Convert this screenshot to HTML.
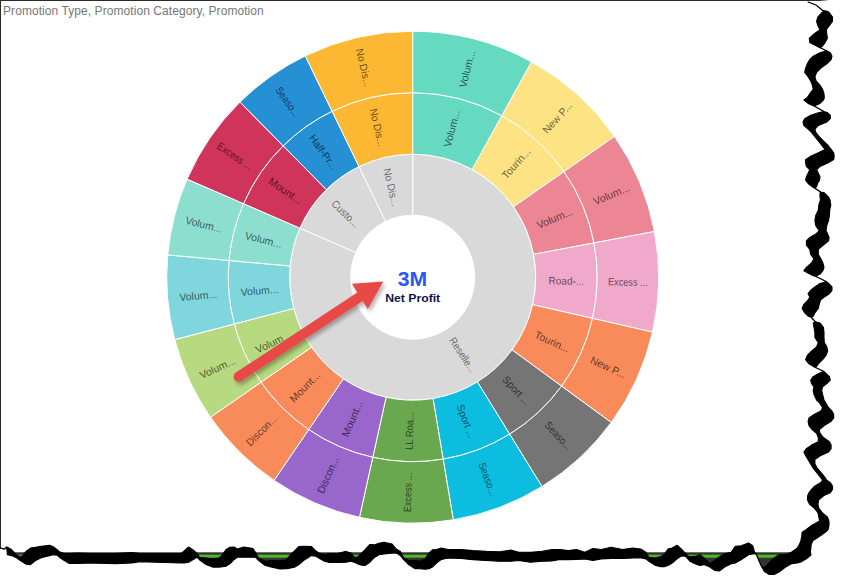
<!DOCTYPE html>
<html><head><meta charset="utf-8"><title>Sunburst</title>
<style>
html,body{margin:0;padding:0;background:#fff;}
body{width:849px;height:587px;overflow:hidden;position:relative;font-family:"Liberation Sans",sans-serif;}
svg{position:absolute;left:0;top:0;}
svg text{font-family:"Liberation Sans",sans-serif;font-size:10.5px;}
.title{position:absolute;left:3px;top:4px;font-size:12px;color:#777;white-space:nowrap;letter-spacing:0.07px;}
.btop{position:absolute;left:0;top:0;width:828px;height:1px;background:#2b2b2b;}
.bleft{position:absolute;left:0;top:0;width:1px;height:548px;background:#2b2b2b;}
</style></head><body>
<div class="btop"></div><div class="bleft"></div>
<div class="title">Promotion Type, Promotion Category, Promotion</div>
<svg width="849" height="587" viewBox="0 0 849 587">
<defs>
<filter id="sh" x="-20%" y="-20%" width="140%" height="140%">
<feGaussianBlur in="SourceAlpha" stdDeviation="2"/><feOffset dx="2" dy="2.5"/>
<feComponentTransfer><feFuncA type="linear" slope="0.32"/></feComponentTransfer>
<feMerge><feMergeNode/><feMergeNode in="SourceGraphic"/></feMerge>
</filter>
</defs>
<path d="M412.70 154.20A123.0 123.0 0 1 1 299.90 228.15L355.84 252.48A62.0 62.0 0 1 0 412.70 215.20Z" fill="#D9D9D9" stroke="#fff" stroke-width="1"/>
<path d="M299.90 228.15A123.0 123.0 0 0 1 358.97 166.55L385.62 221.43A62.0 62.0 0 0 0 355.84 252.48Z" fill="#D9D9D9" stroke="#fff" stroke-width="1"/>
<path d="M358.97 166.55A123.0 123.0 0 0 1 412.70 154.20L412.70 215.20A62.0 62.0 0 0 0 385.62 221.43Z" fill="#D9D9D9" stroke="#fff" stroke-width="1"/>
<path d="M412.70 92.70A184.5 184.5 0 0 1 501.87 115.68L472.14 169.52A123.0 123.0 0 0 0 412.70 154.20Z" fill="#66D9C1" stroke="#fff" stroke-width="1"/>
<path d="M412.70 31.20A246.0 246.0 0 0 1 531.59 61.84L501.87 115.68A184.5 184.5 0 0 0 412.70 92.70Z" fill="#66D9C1" stroke="#fff" stroke-width="1"/>
<path d="M501.87 115.68A184.5 184.5 0 0 1 564.02 171.64L513.58 206.83A123.0 123.0 0 0 0 472.14 169.52Z" fill="#FDE383" stroke="#fff" stroke-width="1"/>
<path d="M531.59 61.84A246.0 246.0 0 0 1 614.46 136.45L564.02 171.64A184.5 184.5 0 0 0 501.87 115.68Z" fill="#FDE383" stroke="#fff" stroke-width="1"/>
<path d="M564.02 171.64A184.5 184.5 0 0 1 593.99 242.94L533.56 254.36A123.0 123.0 0 0 0 513.58 206.83Z" fill="#EC8594" stroke="#fff" stroke-width="1"/>
<path d="M614.46 136.45A246.0 246.0 0 0 1 654.42 231.53L593.99 242.94A184.5 184.5 0 0 0 564.02 171.64Z" fill="#EC8594" stroke="#fff" stroke-width="1"/>
<path d="M593.99 242.94A184.5 184.5 0 0 1 592.54 318.39L532.60 304.66A123.0 123.0 0 0 0 533.56 254.36Z" fill="#F0A8CB" stroke="#fff" stroke-width="1"/>
<path d="M654.42 231.53A246.0 246.0 0 0 1 652.49 332.12L592.54 318.39A184.5 184.5 0 0 0 593.99 242.94Z" fill="#F0A8CB" stroke="#fff" stroke-width="1"/>
<path d="M592.54 318.39A184.5 184.5 0 0 1 561.58 386.17L511.96 349.84A123.0 123.0 0 0 0 532.60 304.66Z" fill="#F98B5B" stroke="#fff" stroke-width="1"/>
<path d="M652.49 332.12A246.0 246.0 0 0 1 611.21 422.49L561.58 386.17A184.5 184.5 0 0 0 592.54 318.39Z" fill="#F98B5B" stroke="#fff" stroke-width="1"/>
<path d="M561.58 386.17A184.5 184.5 0 0 1 509.65 434.17L477.33 381.85A123.0 123.0 0 0 0 511.96 349.84Z" fill="#757575" stroke="#fff" stroke-width="1"/>
<path d="M611.21 422.49A246.0 246.0 0 0 1 541.97 486.50L509.65 434.17A184.5 184.5 0 0 0 561.58 386.17Z" fill="#757575" stroke="#fff" stroke-width="1"/>
<path d="M509.65 434.17A184.5 184.5 0 0 1 443.15 459.17L433.00 398.51A123.0 123.0 0 0 0 477.33 381.85Z" fill="#0DBDDF" stroke="#fff" stroke-width="1"/>
<path d="M541.97 486.50A246.0 246.0 0 0 1 453.30 519.83L443.15 459.17A184.5 184.5 0 0 0 509.65 434.17Z" fill="#0DBDDF" stroke="#fff" stroke-width="1"/>
<path d="M443.15 459.17A184.5 184.5 0 0 1 372.77 457.33L386.08 397.28A123.0 123.0 0 0 0 433.00 398.51Z" fill="#6AA84F" stroke="#fff" stroke-width="1"/>
<path d="M453.30 519.83A246.0 246.0 0 0 1 359.46 517.37L372.77 457.33A184.5 184.5 0 0 0 443.15 459.17Z" fill="#6AA84F" stroke="#fff" stroke-width="1"/>
<path d="M372.77 457.33A184.5 184.5 0 0 1 308.73 429.62L343.39 378.81A123.0 123.0 0 0 0 386.08 397.28Z" fill="#9966CC" stroke="#fff" stroke-width="1"/>
<path d="M359.46 517.37A246.0 246.0 0 0 1 274.07 480.42L308.73 429.62A184.5 184.5 0 0 0 372.77 457.33Z" fill="#9966CC" stroke="#fff" stroke-width="1"/>
<path d="M308.73 429.62A184.5 184.5 0 0 1 261.01 382.23L311.58 347.22A123.0 123.0 0 0 0 343.39 378.81Z" fill="#F98B5B" stroke="#fff" stroke-width="1"/>
<path d="M274.07 480.42A246.0 246.0 0 0 1 210.45 417.24L261.01 382.23A184.5 184.5 0 0 0 308.73 429.62Z" fill="#F98B5B" stroke="#fff" stroke-width="1"/>
<path d="M261.01 382.23A184.5 184.5 0 0 1 234.24 324.02L293.73 308.41A123.0 123.0 0 0 0 311.58 347.22Z" fill="#B7D97F" stroke="#fff" stroke-width="1"/>
<path d="M210.45 417.24A246.0 246.0 0 0 1 174.75 339.62L234.24 324.02A184.5 184.5 0 0 0 261.01 382.23Z" fill="#B7D97F" stroke="#fff" stroke-width="1"/>
<path d="M234.24 324.02A184.5 184.5 0 0 1 228.96 260.48L290.21 266.05A123.0 123.0 0 0 0 293.73 308.41Z" fill="#7FD6DC" stroke="#fff" stroke-width="1"/>
<path d="M174.75 339.62A246.0 246.0 0 0 1 167.71 254.90L228.96 260.48A184.5 184.5 0 0 0 234.24 324.02Z" fill="#7FD6DC" stroke="#fff" stroke-width="1"/>
<path d="M228.96 260.48A184.5 184.5 0 0 1 243.50 203.63L299.90 228.15A123.0 123.0 0 0 0 290.21 266.05Z" fill="#8CDFCF" stroke="#fff" stroke-width="1"/>
<path d="M167.71 254.90A246.0 246.0 0 0 1 187.10 179.11L243.50 203.63A184.5 184.5 0 0 0 228.96 260.48Z" fill="#8CDFCF" stroke="#fff" stroke-width="1"/>
<path d="M243.50 203.63A184.5 184.5 0 0 1 283.15 145.83L326.34 189.62A123.0 123.0 0 0 0 299.90 228.15Z" fill="#D0345B" stroke="#fff" stroke-width="1"/>
<path d="M187.10 179.11A246.0 246.0 0 0 1 239.97 102.04L283.15 145.83A184.5 184.5 0 0 0 243.50 203.63Z" fill="#D0345B" stroke="#fff" stroke-width="1"/>
<path d="M283.15 145.83A184.5 184.5 0 0 1 332.11 111.23L358.97 166.55A123.0 123.0 0 0 0 326.34 189.62Z" fill="#2590D4" stroke="#fff" stroke-width="1"/>
<path d="M239.97 102.04A246.0 246.0 0 0 1 305.25 55.91L332.11 111.23A184.5 184.5 0 0 0 283.15 145.83Z" fill="#2590D4" stroke="#fff" stroke-width="1"/>
<path d="M332.11 111.23A184.5 184.5 0 0 1 412.70 92.70L412.70 154.20A123.0 123.0 0 0 0 358.97 166.55Z" fill="#FDB833" stroke="#fff" stroke-width="1"/>
<path d="M305.25 55.91A246.0 246.0 0 0 1 412.70 31.20L412.70 92.70A184.5 184.5 0 0 0 332.11 111.23Z" fill="#FDB833" stroke="#fff" stroke-width="1"/>
<text x="463.42" y="354.56" transform="rotate(56.75 463.42 354.56)" fill="#5a5a5a" fill-opacity="0.9" text-anchor="middle" dy="4.4" textLength="39.77" lengthAdjust="spacingAndGlyphs">Reselle...</text>
<text x="345.94" y="213.18" transform="rotate(43.80 345.94 213.18)" fill="#5a5a5a" fill-opacity="0.9" text-anchor="middle" dy="4.4" textLength="33.96" lengthAdjust="spacingAndGlyphs">Custo...</text>
<text x="391.97" y="187.05" transform="rotate(77.05 391.97 187.05)" fill="#5a5a5a" fill-opacity="0.9" text-anchor="middle" dy="4.4" textLength="38.68" lengthAdjust="spacingAndGlyphs">No Dis...</text>
<text x="451.07" y="128.31" transform="rotate(-75.55 451.07 128.31)" fill="#000" fill-opacity="0.62" text-anchor="middle" dy="4.4" textLength="37.97" lengthAdjust="spacingAndGlyphs">Volum...</text>
<text x="466.41" y="68.76" transform="rotate(-75.55 466.41 68.76)" fill="#000" fill-opacity="0.62" text-anchor="middle" dy="4.4" textLength="37.97" lengthAdjust="spacingAndGlyphs">Volum...</text>
<text x="515.58" y="162.94" transform="rotate(-48.00 515.58 162.94)" fill="#000" fill-opacity="0.62" text-anchor="middle" dy="4.4" textLength="37.13" lengthAdjust="spacingAndGlyphs">Tourin...</text>
<text x="556.73" y="117.24" transform="rotate(-48.00 556.73 117.24)" fill="#000" fill-opacity="0.62" text-anchor="middle" dy="4.4" textLength="38.0" lengthAdjust="spacingAndGlyphs">New P...</text>
<text x="554.44" y="217.62" transform="rotate(-22.80 554.44 217.62)" fill="#000" fill-opacity="0.62" text-anchor="middle" dy="4.4" textLength="37.97" lengthAdjust="spacingAndGlyphs">Volum...</text>
<text x="611.13" y="193.79" transform="rotate(-22.80 611.13 193.79)" fill="#000" fill-opacity="0.62" text-anchor="middle" dy="4.4" textLength="37.97" lengthAdjust="spacingAndGlyphs">Volum...</text>
<text x="566.42" y="280.15" transform="rotate(1.10 566.42 280.15)" fill="#000" fill-opacity="0.62" text-anchor="middle" dy="4.4" textLength="35.56" lengthAdjust="spacingAndGlyphs">Road-...</text>
<text x="627.91" y="281.33" transform="rotate(1.10 627.91 281.33)" fill="#000" fill-opacity="0.62" text-anchor="middle" dy="4.4" textLength="39.71" lengthAdjust="spacingAndGlyphs">Excess ...</text>
<text x="552.55" y="341.08" transform="rotate(24.55 552.55 341.08)" fill="#000" fill-opacity="0.62" text-anchor="middle" dy="4.4" textLength="37.13" lengthAdjust="spacingAndGlyphs">Tourin...</text>
<text x="608.49" y="366.63" transform="rotate(24.55 608.49 366.63)" fill="#000" fill-opacity="0.62" text-anchor="middle" dy="4.4" textLength="38.0" lengthAdjust="spacingAndGlyphs">New P...</text>
<text x="517.07" y="390.10" transform="rotate(47.25 517.07 390.10)" fill="#000" fill-opacity="0.62" text-anchor="middle" dy="4.4" textLength="35.38" lengthAdjust="spacingAndGlyphs">Sport ...</text>
<text x="558.81" y="435.26" transform="rotate(47.25 558.81 435.26)" fill="#000" fill-opacity="0.62" text-anchor="middle" dy="4.4" textLength="34.39" lengthAdjust="spacingAndGlyphs">Seaso...</text>
<text x="466.80" y="421.12" transform="rotate(69.40 466.80 421.12)" fill="#000" fill-opacity="0.62" text-anchor="middle" dy="4.4" textLength="35.38" lengthAdjust="spacingAndGlyphs">Sport ...</text>
<text x="488.43" y="478.69" transform="rotate(69.40 488.43 478.69)" fill="#000" fill-opacity="0.62" text-anchor="middle" dy="4.4" textLength="34.39" lengthAdjust="spacingAndGlyphs">Seaso...</text>
<text x="408.68" y="430.90" transform="rotate(-88.50 408.68 430.90)" fill="#000" fill-opacity="0.62" text-anchor="middle" dy="4.4" textLength="38.0" lengthAdjust="spacingAndGlyphs">LL Roa...</text>
<text x="407.07" y="492.38" transform="rotate(-88.50 407.07 492.38)" fill="#000" fill-opacity="0.62" text-anchor="middle" dy="4.4" textLength="39.71" lengthAdjust="spacingAndGlyphs">Excess ...</text>
<text x="351.64" y="418.30" transform="rotate(-66.60 351.64 418.30)" fill="#000" fill-opacity="0.62" text-anchor="middle" dy="4.4" textLength="38.44" lengthAdjust="spacingAndGlyphs">Mount...</text>
<text x="327.21" y="474.75" transform="rotate(-66.60 327.21 474.75)" fill="#000" fill-opacity="0.62" text-anchor="middle" dy="4.4" textLength="38.73" lengthAdjust="spacingAndGlyphs">Discon...</text>
<text x="304.36" y="386.30" transform="rotate(-45.20 304.36 386.30)" fill="#000" fill-opacity="0.62" text-anchor="middle" dy="4.4" textLength="38.44" lengthAdjust="spacingAndGlyphs">Mount...</text>
<text x="261.03" y="429.94" transform="rotate(-45.20 261.03 429.94)" fill="#000" fill-opacity="0.62" text-anchor="middle" dy="4.4" textLength="38.73" lengthAdjust="spacingAndGlyphs">Discon...</text>
<text x="273.02" y="341.45" transform="rotate(-24.70 273.02 341.45)" fill="#000" fill-opacity="0.62" text-anchor="middle" dy="4.4" textLength="37.97" lengthAdjust="spacingAndGlyphs">Volum...</text>
<text x="217.14" y="367.15" transform="rotate(-24.70 217.14 367.15)" fill="#000" fill-opacity="0.62" text-anchor="middle" dy="4.4" textLength="37.97" lengthAdjust="spacingAndGlyphs">Volum...</text>
<text x="259.48" y="289.93" transform="rotate(-4.75 259.48 289.93)" fill="#000" fill-opacity="0.62" text-anchor="middle" dy="4.4" textLength="37.97" lengthAdjust="spacingAndGlyphs">Volum...</text>
<text x="198.19" y="295.02" transform="rotate(-4.75 198.19 295.02)" fill="#000" fill-opacity="0.62" text-anchor="middle" dy="4.4" textLength="37.97" lengthAdjust="spacingAndGlyphs">Volum...</text>
<text x="263.75" y="239.09" transform="rotate(14.35 263.75 239.09)" fill="#000" fill-opacity="0.62" text-anchor="middle" dy="4.4" textLength="37.97" lengthAdjust="spacingAndGlyphs">Volum...</text>
<text x="204.17" y="223.85" transform="rotate(14.35 204.17 223.85)" fill="#000" fill-opacity="0.62" text-anchor="middle" dy="4.4" textLength="37.97" lengthAdjust="spacingAndGlyphs">Volum...</text>
<text x="285.91" y="190.23" transform="rotate(34.45 285.91 190.23)" fill="#000" fill-opacity="0.62" text-anchor="middle" dy="4.4" textLength="38.44" lengthAdjust="spacingAndGlyphs">Mount...</text>
<text x="235.20" y="155.44" transform="rotate(34.45 235.20 155.44)" fill="#000" fill-opacity="0.62" text-anchor="middle" dy="4.4" textLength="39.71" lengthAdjust="spacingAndGlyphs">Excess ...</text>
<text x="323.96" y="151.64" transform="rotate(54.75 323.96 151.64)" fill="#000" fill-opacity="0.62" text-anchor="middle" dy="4.4" textLength="40.1" lengthAdjust="spacingAndGlyphs">Half-Pr...</text>
<text x="288.47" y="101.42" transform="rotate(54.75 288.47 101.42)" fill="#000" fill-opacity="0.62" text-anchor="middle" dy="4.4" textLength="34.39" lengthAdjust="spacingAndGlyphs">Seaso...</text>
<text x="378.24" y="127.36" transform="rotate(77.05 378.24 127.36)" fill="#000" fill-opacity="0.62" text-anchor="middle" dy="4.4" textLength="38.68" lengthAdjust="spacingAndGlyphs">No Dis...</text>
<text x="364.46" y="67.42" transform="rotate(77.05 364.46 67.42)" fill="#000" fill-opacity="0.62" text-anchor="middle" dy="4.4" textLength="38.68" lengthAdjust="spacingAndGlyphs">No Dis...</text>
<text x="397.8" y="285.7" textLength="29.4" lengthAdjust="spacingAndGlyphs" style="font-size:19.5px;font-weight:bold" fill="#2957F0">3M</text>
<text x="385.2" y="301.6" textLength="55" lengthAdjust="spacingAndGlyphs" style="font-size:11.6px;font-weight:bold" fill="#0F1350">Net Profit</text>
<g filter="url(#sh)">
<line x1="238.6" y1="376.8" x2="360" y2="296.8" stroke="#E84A47" stroke-width="10" stroke-linecap="round"/>
<polygon points="383.3,281.5 351.9,283.8 367.8,308.9" fill="#E84A47"/>
</g>
<rect x="8" y="552.3" width="785" height="28" fill="#333"/>
<rect x="8" y="554.7" width="785" height="3" fill="#4DB81F"/>
<polygon points="808.2,2.0 816.2,5.1 822.5,10.2 828.0,11.6 829.4,12.8 832.5,17.0 832.5,21.3 829.4,25.5 826.3,29.8 826.8,34.0 827.4,38.3 825.1,42.6 822.6,46.0 820.2,47.7 826.8,50.8 830.3,52.8 832.0,56.2 831.1,59.6 826.8,63.9 820.9,68.1 816.6,72.4 814.9,76.7 816.1,80.9 820.0,85.2 822.6,89.4 824.0,93.7 824.3,98.0 823.4,100.0 820.0,103.4 814.2,106.0 824.0,111.6 827.7,112.8 830.3,115.3 830.3,118.7 826.8,122.1 818.3,125.6 814.9,129.0 815.8,132.4 819.2,136.6 823.4,140.9 827.7,145.1 831.1,149.4 833.7,152.8 834.2,156.2 833.7,159.6 827.7,163.0 820.0,166.4 816.6,169.8 818.3,173.3 820.0,176.7 819.5,180.1 817.5,183.5 816.6,186.9 814.2,187.7 820.8,192.0 824.3,192.8 828.6,197.1 830.0,200.0 830.8,205.1 829.7,210.2 829.4,215.3 828.6,220.4 826.8,225.6 826.0,230.7 827.7,234.1 829.1,237.5 828.6,240.9 823.4,245.1 818.3,249.4 818.3,254.5 820.9,258.8 822.9,263.0 824.0,267.3 822.9,270.7 820.0,274.1 816.6,275.8 815.1,276.1 826.8,281.8 828.6,283.5 832.0,286.9 832.0,290.3 829.4,293.7 824.3,297.1 820.5,300.0 819.2,304.3 818.3,308.5 814.9,312.8 813.2,316.2 811.0,317.0 815.6,321.8 820.0,323.0 823.4,327.3 824.0,332.4 824.0,337.5 824.3,342.6 826.8,346.8 827.7,351.1 826.0,355.4 822.6,359.6 818.3,363.9 816.6,366.4 815.1,367.3 824.1,371.6 826.0,373.3 829.4,376.7 830.3,380.1 826.8,383.5 822.6,386.9 821.7,390.3 822.6,394.5 824.0,400.0 826.0,403.4 828.6,407.7 832.0,411.1 833.7,414.5 833.7,417.9 831.1,421.3 824.3,425.6 819.2,429.8 820.0,433.2 823.4,437.5 829.4,441.7 831.1,445.1 831.1,448.6 828.6,452.0 820.9,455.4 814.9,459.6 814.9,463.9 817.1,468.1 820.9,472.4 824.3,476.7 826.8,480.1 830.3,482.6 832.5,486.0 832.5,489.4 830.3,492.8 823.9,495.5 818.8,499.8 817.9,504.0 818.8,508.3 822.2,512.6 827.3,516.8 829.0,521.1 829.0,525.3 828.1,529.6 825.6,532.1 819.6,536.4 812.8,540.7 811.1,544.9 810.8,549.2 810.3,551.7 811.0,555.1 806.8,558.5 800.9,562.0 797.2,563.0 791.4,563.8 785.6,567.1 779.0,572.0 774.1,574.5 769.2,574.5 764.2,571.2 761.0,565.5 756.0,554.0 754.6,553.9 752.7,553.9 748.5,554.7 741.1,559.7 735.3,563.0 731.2,563.8 724.6,567.1 719.7,570.9 714.7,570.4 709.8,567.1 704.0,564.6 699.9,565.5 695.0,563.8 690.0,561.3 688.6,559.7 685.3,556.1 681.2,556.1 677.1,558.9 672.1,563.0 668.0,565.5 664.7,566.6 660.6,566.6 655.6,565.5 649.0,561.3 645.8,558.9 640.8,557.7 632.6,558.0 622.7,558.4 611.1,558.4 601.2,558.9 593.0,560.5 584.7,558.9 576.5,559.4 568.2,559.7 560.0,559.5 551.9,561.0 542.0,561.3 530.5,562.2 518.9,560.5 510.7,561.3 499.2,561.3 486.0,560.5 472.8,559.7 461.2,558.4 448.0,558.0 441.4,559.4 436.5,563.0 432.4,567.1 429.0,568.8 425.0,569.2 420.0,568.8 415.2,568.8 408.6,564.6 403.7,559.7 400.4,555.6 396.3,553.1 392.1,553.1 383.9,553.9 378.9,554.7 374.8,557.2 369.9,562.2 364.9,565.5 360.8,565.0 357.5,563.8 354.2,562.2 350.9,561.3 346.0,562.2 337.7,562.5 329.5,562.5 324.5,561.3 318.8,558.0 315.5,556.1 311.3,555.6 304.7,559.7 299.0,564.6 294.8,567.1 290.7,567.9 286.6,568.8 280.0,569.0 271.9,567.1 265.3,565.5 258.7,560.5 255.4,557.2 253.0,557.2 248.8,557.2 243.9,557.2 237.3,557.2 234.0,559.7 229.9,563.8 225.8,566.3 222.5,566.6 219.2,567.1 212.6,567.1 206.0,564.6 199.4,559.7 196.9,557.2 192.8,559.7 188.6,562.2 184.5,563.0 181.2,563.0 156.5,562.2 140.0,561.8 131.9,563.0 115.4,563.8 90.7,563.0 77.5,563.5 69.3,563.5 64.3,560.5 59.4,557.2 56.9,555.1 52.8,554.7 49.5,555.6 41.2,557.7 35.5,560.5 30.5,564.6 26.4,564.3 21.4,561.3 16.5,557.7 11.5,555.6 7.4,554.7 6.6,547.1 4.1,549.3 1.3,548.3 0.0,548.3 0.0,587.0 849.0,587.0 849.0,0.0 830.0,0.0" fill="#fff"/>
<polygon points="808.0,2.0 816.0,5.1 822.3,10.2 824.0,11.6 821.7,12.8 817.8,17.0 816.6,21.3 817.8,25.5 820.0,29.8 814.0,34.0 809.3,38.3 809.8,42.6 816.6,46.0 820.0,47.7 826.5,50.8 820.0,52.8 813.2,56.2 809.8,59.6 807.3,63.9 805.6,68.1 804.7,72.4 808.1,76.7 810.7,80.9 812.4,85.2 813.2,89.4 809.8,93.7 806.9,98.0 803.9,100.0 808.1,103.4 814.0,106.0 823.8,111.6 818.3,112.8 810.7,115.3 804.7,118.7 803.0,122.1 803.9,125.6 808.1,129.0 811.5,132.4 814.9,136.6 818.3,140.9 821.7,145.1 825.1,149.4 818.3,152.8 810.7,156.2 805.6,159.6 805.6,163.0 806.4,166.4 809.8,169.8 808.1,173.3 806.4,176.7 805.6,180.1 808.1,183.5 812.4,186.9 814.0,187.7 820.5,192.0 820.0,192.8 820.0,197.1 820.5,200.0 818.8,205.1 818.3,210.2 815.8,215.3 814.9,220.4 815.8,225.6 819.2,230.7 815.8,234.1 809.8,237.5 806.4,240.9 806.4,245.1 809.8,249.4 810.7,254.5 814.0,258.8 811.5,263.0 806.4,267.3 803.9,270.7 809.8,274.1 813.2,275.8 814.9,276.1 826.5,281.8 820.0,283.5 814.9,286.9 810.7,290.3 808.1,293.7 809.8,297.1 808.1,300.0 803.9,304.3 802.1,308.5 804.7,312.8 808.1,316.2 810.7,317.0 815.4,321.8 813.2,323.0 814.0,327.3 814.9,332.4 814.9,337.5 818.3,342.6 816.6,346.8 811.5,351.1 807.3,355.4 805.6,359.6 809.0,363.9 813.2,366.4 814.9,367.3 823.9,371.6 819.2,373.3 813.2,376.7 810.7,380.1 811.5,383.5 814.0,386.9 813.2,390.3 814.0,394.5 816.6,400.0 820.0,403.4 822.6,407.7 820.9,411.1 814.0,414.5 809.0,417.9 808.1,421.3 809.0,425.6 812.4,429.8 816.6,433.2 818.3,437.5 818.3,441.7 811.5,445.1 806.4,448.6 803.9,452.0 805.6,455.4 808.1,459.6 810.7,463.9 813.2,468.1 816.6,472.4 820.0,476.7 822.6,480.1 820.9,482.6 814.9,486.0 811.5,489.4 809.0,492.8 807.7,495.5 807.4,499.8 809.4,504.0 814.5,508.3 817.9,512.6 818.8,516.8 819.6,521.1 812.0,525.3 806.0,529.6 802.2,532.1 801.7,536.4 800.9,540.7 799.2,544.9 797.2,548.1 791.4,552.3 785.6,554.7 779.0,554.7 774.1,558.0 769.2,563.0 764.2,567.9 761.0,565.0 756.0,553.5 754.6,552.3 752.7,545.7 748.5,542.9 741.1,545.7 735.3,546.2 731.2,552.3 724.6,553.9 719.7,556.4 714.7,560.5 709.8,563.5 704.0,558.0 699.9,554.7 695.0,556.4 690.0,556.7 688.6,556.4 685.3,553.1 681.2,549.0 677.1,545.2 672.1,548.1 668.0,549.0 664.7,553.9 660.6,556.4 655.6,558.0 649.0,557.2 645.8,552.3 640.8,549.0 632.6,548.1 622.7,549.5 611.1,547.3 601.2,549.5 593.0,548.5 584.7,552.3 576.5,549.5 568.2,550.6 560.0,549.6 551.9,549.5 542.0,551.4 530.5,552.3 518.9,552.3 510.7,550.1 499.2,551.8 486.0,551.4 472.8,550.6 461.2,549.5 448.0,549.5 441.4,548.1 436.5,549.5 432.4,549.8 429.0,553.1 425.0,558.9 420.0,561.3 415.2,560.5 408.6,560.5 403.7,558.0 400.4,551.4 396.3,549.0 392.1,544.0 383.9,542.4 378.9,543.2 374.8,544.8 369.9,544.5 364.9,549.8 360.8,553.9 357.5,557.2 354.2,557.2 350.9,553.1 346.0,551.4 337.7,553.5 329.5,553.5 324.5,554.7 318.8,553.0 315.5,550.6 311.3,546.5 304.7,546.2 299.0,546.5 294.8,550.6 290.7,554.7 286.6,559.7 280.0,560.8 271.9,560.5 265.3,561.3 258.7,558.0 255.4,552.3 253.0,548.5 248.8,547.8 243.9,547.0 237.3,549.0 234.0,547.0 229.9,547.3 225.8,549.8 222.5,554.7 219.2,558.0 212.6,558.9 206.0,558.0 199.4,557.2 196.9,553.1 192.8,549.8 188.6,547.0 184.5,550.6 181.2,553.5 156.5,553.5 140.0,553.5 131.9,552.5 115.4,553.5 90.7,553.5 77.5,553.0 69.3,553.5 64.3,553.5 59.4,551.8 56.9,549.5 52.8,546.5 49.5,545.2 41.2,546.2 35.5,547.3 30.5,548.1 26.4,551.1 21.4,557.2 16.5,555.1 11.5,549.5 7.4,547.3 6.6,546.8 4.1,549.0 1.3,548.0 0.0,548.0 0.0,548.3 1.3,548.3 4.1,549.3 6.6,547.1 7.4,554.7 11.5,555.6 16.5,557.7 21.4,561.3 26.4,564.3 30.5,564.6 35.5,560.5 41.2,557.7 49.5,555.6 52.8,554.7 56.9,555.1 59.4,557.2 64.3,560.5 69.3,563.5 77.5,563.5 90.7,563.0 115.4,563.8 131.9,563.0 140.0,561.8 156.5,562.2 181.2,563.0 184.5,563.0 188.6,562.2 192.8,559.7 196.9,557.2 199.4,559.7 206.0,564.6 212.6,567.1 219.2,567.1 222.5,566.6 225.8,566.3 229.9,563.8 234.0,559.7 237.3,557.2 243.9,557.2 248.8,557.2 253.0,557.2 255.4,557.2 258.7,560.5 265.3,565.5 271.9,567.1 280.0,569.0 286.6,568.8 290.7,567.9 294.8,567.1 299.0,564.6 304.7,559.7 311.3,555.6 315.5,556.1 318.8,558.0 324.5,561.3 329.5,562.5 337.7,562.5 346.0,562.2 350.9,561.3 354.2,562.2 357.5,563.8 360.8,565.0 364.9,565.5 369.9,562.2 374.8,557.2 378.9,554.7 383.9,553.9 392.1,553.1 396.3,553.1 400.4,555.6 403.7,559.7 408.6,564.6 415.2,568.8 420.0,568.8 425.0,569.2 429.0,568.8 432.4,567.1 436.5,563.0 441.4,559.4 448.0,558.0 461.2,558.4 472.8,559.7 486.0,560.5 499.2,561.3 510.7,561.3 518.9,560.5 530.5,562.2 542.0,561.3 551.9,561.0 560.0,559.5 568.2,559.7 576.5,559.4 584.7,558.9 593.0,560.5 601.2,558.9 611.1,558.4 622.7,558.4 632.6,558.0 640.8,557.7 645.8,558.9 649.0,561.3 655.6,565.5 660.6,566.6 664.7,566.6 668.0,565.5 672.1,563.0 677.1,558.9 681.2,556.1 685.3,556.1 688.6,559.7 690.0,561.3 695.0,563.8 699.9,565.5 704.0,564.6 709.8,567.1 714.7,570.4 719.7,570.9 724.6,567.1 731.2,563.8 735.3,563.0 741.1,559.7 748.5,554.7 752.7,553.9 754.6,553.9 756.0,554.0 761.0,565.5 764.2,571.2 769.2,574.5 774.1,574.5 779.0,572.0 785.6,567.1 791.4,563.8 797.2,563.0 800.9,562.0 806.8,558.5 811.0,555.1 810.3,551.7 810.8,549.2 811.1,544.9 812.8,540.7 819.6,536.4 825.6,532.1 828.1,529.6 829.0,525.3 829.0,521.1 827.3,516.8 822.2,512.6 818.8,508.3 817.9,504.0 818.8,499.8 823.9,495.5 830.3,492.8 832.5,489.4 832.5,486.0 830.3,482.6 826.8,480.1 824.3,476.7 820.9,472.4 817.1,468.1 814.9,463.9 814.9,459.6 820.9,455.4 828.6,452.0 831.1,448.6 831.1,445.1 829.4,441.7 823.4,437.5 820.0,433.2 819.2,429.8 824.3,425.6 831.1,421.3 833.7,417.9 833.7,414.5 832.0,411.1 828.6,407.7 826.0,403.4 824.0,400.0 822.6,394.5 821.7,390.3 822.6,386.9 826.8,383.5 830.3,380.1 829.4,376.7 826.0,373.3 824.1,371.6 815.1,367.3 816.6,366.4 818.3,363.9 822.6,359.6 826.0,355.4 827.7,351.1 826.8,346.8 824.3,342.6 824.0,337.5 824.0,332.4 823.4,327.3 820.0,323.0 815.6,321.8 811.0,317.0 813.2,316.2 814.9,312.8 818.3,308.5 819.2,304.3 820.5,300.0 824.3,297.1 829.4,293.7 832.0,290.3 832.0,286.9 828.6,283.5 826.8,281.8 815.1,276.1 816.6,275.8 820.0,274.1 822.9,270.7 824.0,267.3 822.9,263.0 820.9,258.8 818.3,254.5 818.3,249.4 823.4,245.1 828.6,240.9 829.1,237.5 827.7,234.1 826.0,230.7 826.8,225.6 828.6,220.4 829.4,215.3 829.7,210.2 830.8,205.1 830.0,200.0 828.6,197.1 824.3,192.8 820.8,192.0 814.2,187.7 816.6,186.9 817.5,183.5 819.5,180.1 820.0,176.7 818.3,173.3 816.6,169.8 820.0,166.4 827.7,163.0 833.7,159.6 834.2,156.2 833.7,152.8 831.1,149.4 827.7,145.1 823.4,140.9 819.2,136.6 815.8,132.4 814.9,129.0 818.3,125.6 826.8,122.1 830.3,118.7 830.3,115.3 827.7,112.8 824.0,111.6 814.2,106.0 820.0,103.4 823.4,100.0 824.3,98.0 824.0,93.7 822.6,89.4 820.0,85.2 816.1,80.9 814.9,76.7 816.6,72.4 820.9,68.1 826.8,63.9 831.1,59.6 832.0,56.2 830.3,52.8 826.8,50.8 820.2,47.7 822.6,46.0 825.1,42.6 827.4,38.3 826.8,34.0 826.3,29.8 829.4,25.5 832.5,21.3 832.5,17.0 829.4,12.8 828.0,11.6 822.5,10.2 816.2,5.1 808.2,2.0" fill="#000" stroke="#000" stroke-width="1.1" stroke-linejoin="round"/>
</svg>
</body></html>
